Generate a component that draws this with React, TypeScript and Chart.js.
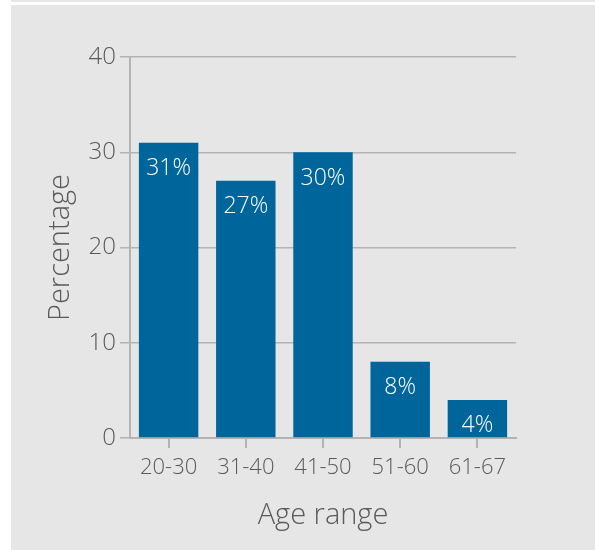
import React, { useEffect, useRef } from "react";
import { Chart, registerables } from "chart.js";

Chart.register(...registerables);

const categories = ["20-30", "31-40", "41-50", "51-60", "61-67"];
const values = [31, 27, 30, 8, 4];
const valueLabels = ["31%", "27%", "30%", "8%", "4%"];
const yTicks = [0, 10, 20, 30, 40];

const FONT = "'Open Sans', 'DejaVu Sans', sans-serif";
const TEXT = "#5a5a5a";
const LINE = "#b3b3b3";
const BAR = "#00659a";

const labelPlugin = {
  id: "barLabels",
  afterDatasetsDraw(chart: any) {
    const ctx = chart.ctx;
    const meta = chart.getDatasetMeta(0);
    ctx.save();
    ctx.fillStyle = "#ffffff";
    ctx.font = `300 23px ${FONT}`;
    ctx.textAlign = "center";
    ctx.textBaseline = "middle";
    meta.data.forEach((bar: any, i: number) => {
      ctx.fillText(valueLabels[i], bar.x, bar.y + 26);
    });
    ctx.restore();
  },
};

export default function App() {
  const ref = useRef<HTMLCanvasElement>(null);
  useEffect(() => {
    if (!ref.current) return;
    const chart = new Chart(ref.current, {
      type: "bar",
      data: {
        labels: categories,
        datasets: [
          {
            data: values,
            backgroundColor: BAR,
            borderWidth: 0,
            barPercentage: 0.77,
            categoryPercentage: 1,
          },
        ],
      },
      options: {
        animation: false,
        responsive: false,
        maintainAspectRatio: false,
        layout: { padding: { left: 39, right: 79, top: 57, bottom: 13 } },
        plugins: { legend: { display: false }, tooltip: { enabled: false } },
        scales: {
          x: {
            afterFit: (s: any) => {
              s.height = 99;
            },
            grid: {
              offset: false,
              drawOnChartArea: false,
              drawTicks: true,
              tickLength: 10,
              color: LINE,
              lineWidth: 2,
            },
            border: { display: true, color: LINE, width: 2 },
            ticks: {
              color: TEXT,
              padding: 7,
              font: { family: FONT, size: 22, weight: "300" as any },
            },
            title: {
              display: true,
              text: "Age range",
              color: TEXT,
              font: { family: FONT, size: 29, weight: "300" as any },
            },
          },
          y: {
            min: 0,
            max: 40,
            afterFit: (s: any) => {
              s.width = 91;
            },
            afterBuildTicks: (s: any) => {
              s.ticks = yTicks.map((v) => ({ value: v }));
            },
            grid: {
              color: LINE,
              lineWidth: 1.5,
              tickLength: 10,
              drawTicks: true,
            },
            border: { display: true, color: LINE, width: 2 },
            ticks: {
              color: TEXT,
              padding: 4,
              font: { family: FONT, size: 24, weight: "300" as any },
            },
            title: {
              display: true,
              text: "Percentage",
              color: TEXT,
              font: { family: FONT, size: 29, weight: "300" as any },
            },
          },
        },
      },
      plugins: [labelPlugin],
    });
    return () => chart.destroy();
  }, []);

  return (
    <div
      style={{
        position: "absolute",
        left: 0,
        top: 0,
        width: 595,
        height: 550,
        background: "#ffffff",
        overflow: "hidden",
      }}
    >
      <div
        style={{
          position: "absolute",
          left: 11,
          top: 0,
          width: 584,
          height: 2,
          background: "#e6e6e6",
        }}
      />
      <div
        style={{
          position: "absolute",
          left: 11,
          top: 5,
          width: 584,
          height: 545,
          background: "#e6e6e6",
        }}
      />
      <canvas
        ref={ref}
        width={595}
        height={550}
        style={{ position: "absolute", left: 0, top: 0, width: 595, height: 550 }}
      />
    </div>
  );
}
